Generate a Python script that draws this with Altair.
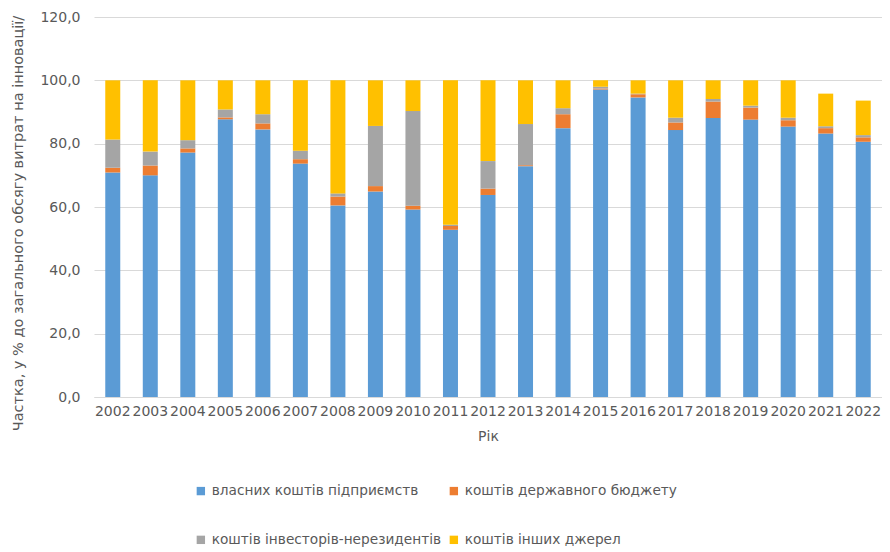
import altair as alt
import pandas as pd

years = [str(y) for y in range(2002, 2023)]
own = [70.9, 70.0, 77.2, 87.7, 84.5, 73.7, 60.5, 64.9, 59.2, 52.8, 63.8, 72.9, 84.9, 97.1, 94.6, 84.3, 88.1, 87.6, 85.4, 83.2, 80.6]
budget = [1.5, 3.1, 1.3, 0.6, 1.9, 1.4, 2.8, 1.7, 1.2, 1.2, 2.0, 0.3, 4.4, 0.3, 1.0, 2.4, 5.2, 3.8, 2.0, 1.7, 1.4]
foreign = [8.9, 4.4, 2.6, 2.5, 2.9, 2.7, 1.0, 19.0, 29.9, 0.4, 8.7, 13.0, 1.9, 0.6, 0.2, 1.5, 0.8, 0.6, 0.8, 0.6, 0.7]
other = [18.7, 22.5, 18.9, 9.2, 10.7, 22.2, 35.7, 14.4, 9.7, 45.6, 25.5, 13.8, 8.8, 2.0, 4.2, 11.8, 5.9, 8.0, 11.8, 10.3, 10.9]

series = [
    "власних коштів підприємств",
    "коштів державного бюджету",
    "коштів інвесторів-нерезидентів",
    "коштів інших джерел",
]
colors = ["#5B9BD5", "#ED7D31", "#A5A5A5", "#FFC000"]
# legend grid fills column by column: order entries so rows read as in the reference
legend_order = [series[0], series[2], series[1], series[3]]
legend_colors = [colors[0], colors[2], colors[1], colors[3]]

rows = []
for i, yr in enumerate(years):
    for k, (name, vals) in enumerate(zip(series, [own, budget, foreign, other])):
        rows.append({"year": yr, "source": name, "value": vals[i], "ord": k})
df = pd.DataFrame(rows)

FONT = "DejaVu Sans"
GREY = "#595959"

chart = alt.Chart(df).mark_bar(size=15).encode(
    x=alt.X(
        "year:N",
        title="Рік",
        sort=years,
        scale=alt.Scale(paddingInner=0.6, paddingOuter=0.3),
        axis=alt.Axis(
            labelAngle=0, ticks=False, domainColor="#D9D9D9", labelFontSize=14,
            labelColor=GREY, labelFont=FONT, labelPadding=7, labelOverlap=False,
            titleFontSize=14, titleColor=GREY, titleFont=FONT, titleFontWeight="normal",
            titlePadding=11,
        ),
    ),
    y=alt.Y(
        "value:Q",
        stack="zero",
        title="Частка, у % до загального обсягу витрат на інновації/",
        scale=alt.Scale(domain=[0, 120], nice=False),
        axis=alt.Axis(
            values=[0, 20, 40, 60, 80, 100, 120],
            labelExpr="replace(format(datum.value, '.1f'), '.', ',')",
            ticks=False, domain=False, gridColor="#D9D9D9", labelFontSize=14,
            labelColor=GREY, labelFont=FONT, labelPadding=14,
            titleFontSize=14.5, titleColor=GREY, titleFont=FONT, titleFontWeight="normal",
            titleX=-76, titleY=206, titleAngle=-90, titleAlign="center", titleBaseline="middle",
        ),
    ),
    color=alt.Color(
        "source:N",
        scale=alt.Scale(domain=legend_order, range=legend_colors),
        legend=alt.Legend(
            title=None, orient="none", legendX=100, legendY=467, columns=2,
            symbolType="square", symbolSize=70, symbolStrokeWidth=0,
            labelFontSize=13.7, labelColor=GREY, labelFont=FONT,
            rowPadding=34, columnPadding=6, gridAlign="each", labelLimit=400,
        ),
    ),
    order=alt.Order("ord:Q", sort="ascending"),
).properties(
    width=788,
    height=380,
    autosize=alt.AutoSizeParams(type="none"),
    padding={"left": 86, "top": 9, "right": 0, "bottom": 153},
).configure_view(stroke=None)

chart.save("out.html", embed_options={"renderer": "svg", "actions": False})
